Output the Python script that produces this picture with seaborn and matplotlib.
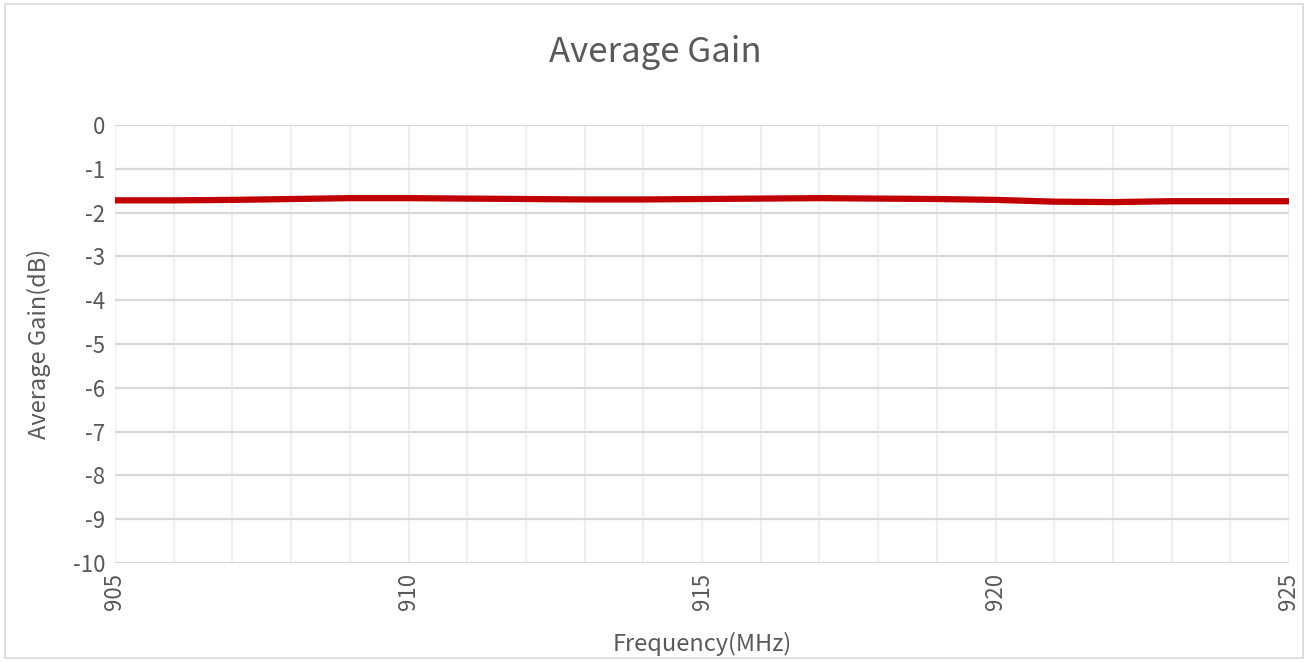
import numpy as np
import pandas as pd
import matplotlib
matplotlib.use('Agg')
import matplotlib.pyplot as plt
import seaborn as sns
from matplotlib.patches import Rectangle

# ============ DADOS ============
freq_mhz = [905, 906, 907, 908, 909, 910, 911, 912, 913, 914, 915,
            916, 917, 918, 919, 920, 921, 922, 923, 924, 925]
gain_db = [-1.72, -1.72, -1.71, -1.69, -1.67, -1.67, -1.68, -1.69, -1.70, -1.70, -1.69,
           -1.68, -1.67, -1.68, -1.69, -1.71, -1.75, -1.76, -1.74, -1.74, -1.74]
x_ticks = [905, 910, 915, 920, 925]
y_ticks = list(range(-10, 1))

df = pd.DataFrame({'freq': freq_mhz, 'gain': gain_db})

# ============ ESTILO ============
sns.set_theme(style='white')
plt.rcParams['font.family'] = ['Noto Sans CJK SC', 'DejaVu Sans']
plt.rcParams['font.weight'] = 'light'
txt = '#595959'

fig = plt.figure(figsize=(13.09, 6.62), dpi=100)
ax = fig.add_axes([115/1309, 1-563/662, (1289-115)/1309, (563-125)/662])

# grade: verticais a cada 1 MHz, horizontais a cada 1 dB
for f in range(905, 926):
    ax.axvline(f, color='#efefef', lw=1.6, zorder=0)
for g in y_ticks:
    ax.axhline(g, color='#d9d9d9', lw=1.6, zorder=1)

sns.lineplot(data=df, x='freq', y='gain', ax=ax, color='#c00000', lw=4.5, zorder=3)

ax.set_xlim(905, 925)
ax.set_ylim(-10, 0)
ax.set_xticks(x_ticks)
ax.set_yticks(y_ticks)
ax.set_xticklabels([str(t) for t in x_ticks], rotation=90, fontsize=16, color=txt)
ax.set_yticklabels([str(t) if t == 0 else '-' + str(abs(t)) for t in y_ticks], fontsize=16, color=txt)
ax.tick_params(axis='both', length=0, pad=7)
for s in ax.spines.values():
    s.set_visible(False)

ax.set_xlabel('Frequency(MHz)', fontsize=17, color=txt, labelpad=16)
ax.set_ylabel('Average Gain(dB)', fontsize=17, color=txt, labelpad=16)
fig.text(655/1309, 1-52/662, 'Average Gain', ha='center', va='center', fontsize=25, color=txt)

# borda da área do gráfico
fig.patches.append(Rectangle((5/1309, 4/662), 1298/1309, 654/662, transform=fig.transFigure,
                             fill=False, edgecolor='#d9d9d9', lw=1.2))

plt.savefig('out.png', dpi=100)
plt.close()
